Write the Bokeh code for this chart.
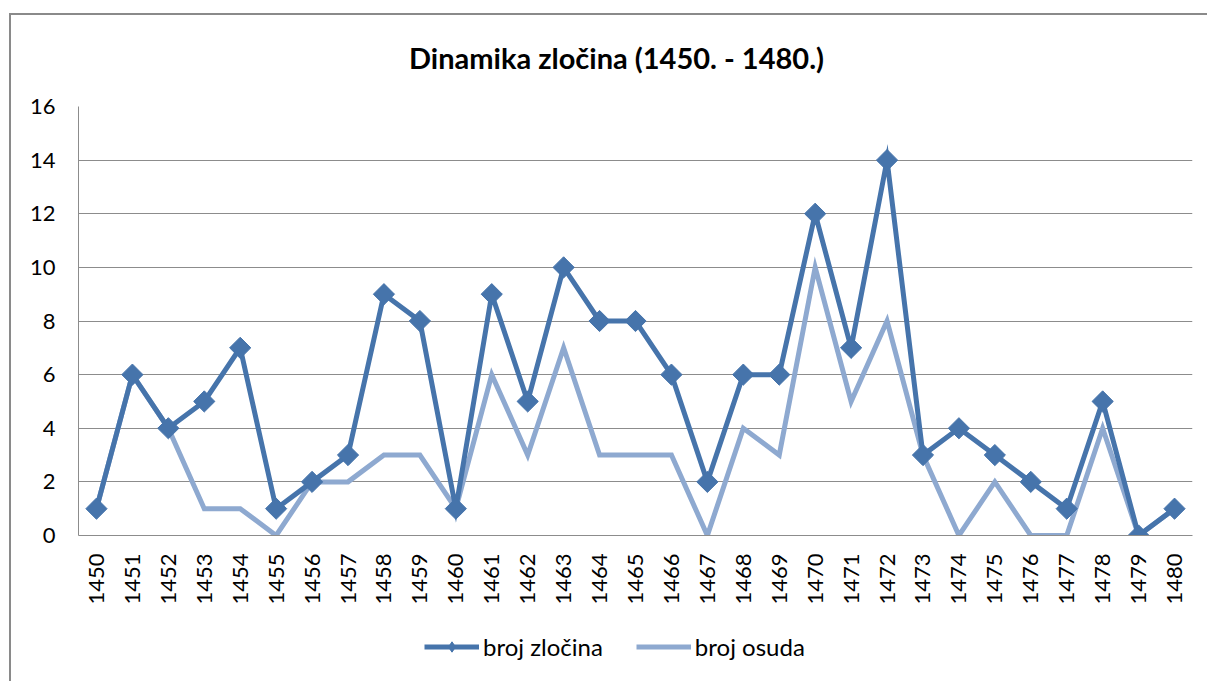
import math
from bokeh.plotting import figure
from bokeh.models import Legend, LegendItem, Label, FactorRange, Range1d, FixedTicker
from bokeh.embed import file_html
from bokeh.resources import INLINE

years = [str(y) for y in range(1450, 1481)]
broj_zlocina = [1, 6, 4, 5, 7, 1, 2, 3, 9, 8, 1, 9, 5, 10, 8, 8, 6, 2, 6, 6, 12, 7, 14, 3, 4, 3, 2, 1, 5, 0, 1]
broj_osuda = [1, 6, 4, 1, 1, 0, 2, 2, 3, 3, 1, 6, 3, 7, 3, 3, 3, 0, 4, 3, 10, 5, 8, 3, 0, 2, 0, 0, 4, 0, 1]
y_ticks = [0, 2, 4, 6, 8, 10, 12, 14, 16]
series_names = ["broj zločina", "broj osuda"]
title_text = "Dinamika zločina (1450. - 1480.)"

DARK = "#4674AB"
LIGHT = "#8EA9D0"
GRID = "#8c8c8c"
FONT = "Lato"

# main chart
p = figure(frame_width=1114, frame_height=429, x_range=FactorRange(*years), y_range=Range1d(0, 16),
           output_backend="svg", toolbar_location=None,
           min_border_left=67, min_border_right=15, min_border_top=91, min_border_bottom=146)
p.styles = {"position": "absolute", "left": "9px", "top": "13px",
            "border-top": "2px solid #8a8a8a", "border-left": "2px solid #8a8a8a"}

p.outline_line_color = None
p.xgrid.grid_line_color = None
p.ygrid.grid_line_color = GRID
p.ygrid.grid_line_width = 1
p.yaxis.ticker = FixedTicker(ticks=y_ticks)

for ax in (p.xaxis[0], p.yaxis[0]):
    ax.axis_line_color = GRID
    ax.axis_line_width = 1
    ax.major_tick_line_color = None
    ax.minor_tick_line_color = None
    ax.major_tick_in = 0
    ax.major_tick_out = 0
    ax.major_label_text_font = FONT
    ax.major_label_text_font_size = "22px"
    ax.major_label_text_color = "#000000"

p.yaxis.major_label_standoff = 23
p.xaxis.major_label_standoff = 18
p.xaxis.major_label_orientation = math.pi / 2

p.line(years, broj_osuda, line_color=LIGHT, line_width=5, line_join="miter")
p.line(years, broj_zlocina, line_color=DARK, line_width=5, line_join="miter")
p.scatter(years, broj_zlocina, marker="square", size=15, angle=math.pi / 4,
          fill_color=DARK, line_color=DARK)

# title canvas
pt = figure(width=600, height=50, x_range=Range1d(0, 1), y_range=Range1d(0, 1),
            output_backend="svg", toolbar_location=None, min_border=0, outline_line_color=None)
pt.styles = {"position": "absolute", "left": "316px", "top": "32px"}
pt.axis.visible = False
pt.grid.visible = False
pt.add_layout(Label(x=0.5, y=0.5, text=title_text, text_align="center", text_baseline="middle",
                    text_font=FONT, text_font_size="29px", text_font_style="bold",
                    text_color="#000000"))

# legend canvas (series drawn outside its visible range, only legend shows)
idx = list(range(len(years)))
pl = figure(width=440, height=34, x_range=Range1d(0, 1), y_range=Range1d(100, 101),
            output_backend="svg", toolbar_location=None, min_border=0, outline_line_color=None)
pl.styles = {"position": "absolute", "left": "424px", "top": "629px"}
pl.axis.visible = False
pl.grid.visible = False
lg1 = pl.line(idx, broj_zlocina, line_color=DARK, line_width=5)
sg1 = pl.scatter(idx, broj_zlocina, marker="diamond", size=20,
                 fill_color=DARK, line_color=DARK)
lg2 = pl.line(idx, broj_osuda, line_color=LIGHT, line_width=5)

legend = Legend(items=[LegendItem(label=series_names[0], renderers=[lg1, sg1]),
                       LegendItem(label=series_names[1], renderers=[lg2])],
                orientation="horizontal", location="center_left",
                label_text_font=FONT, label_text_font_size="24px", label_text_color="#000000",
                glyph_width=55, glyph_height=26, label_standoff=4, spacing=33,
                padding=0, margin=0, border_line_color=None, background_fill_alpha=0)
pl.add_layout(legend, "center")

open("out.html", "w").write(file_html([p, pt, pl], INLINE))
